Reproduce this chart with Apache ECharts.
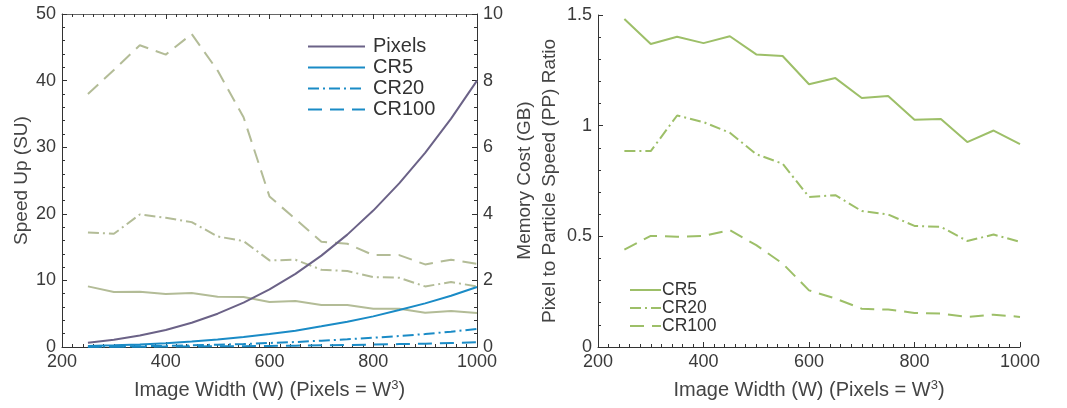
<!DOCTYPE html>
<html>
<head>
<meta charset="utf-8">
<script src="https://cdn.jsdelivr.net/npm/echarts@6/dist/echarts.min.js"></script>
<style>
  html, body { margin: 0; padding: 0; background: #ffffff; }
  #chart { width: 1067px; height: 408px; }
</style>
</head>
<body>
<div id="chart"></div>
<script>
// Image width W (pixels per side)
const widths = [250, 300, 350, 400, 450, 500, 550, 600, 650, 700, 750, 800, 850, 900, 950, 1000];

// Speed up (SU), left axis of the left panel
const suCR5   = [9.1, 8.25, 8.3, 7.95, 8.1, 7.55, 7.5, 6.75, 6.9, 6.3, 6.3, 5.75, 5.75, 5.15, 5.4, 5.1];
const suCR20  = [17.2, 17.0, 19.9, 19.4, 18.75, 16.6, 15.9, 13.0, 13.1, 11.6, 11.4, 10.5, 10.4, 9.1, 9.75, 9.1];
const suCR100 = [38.0, 41.6, 45.3, 43.9, 47.0, 41.5, 34.5, 22.6, 19.2, 15.8, 15.5, 13.8, 13.8, 12.4, 13.1, 12.5];

// Memory cost (GB), right axis of the left panel
const memPixels = [0.125, 0.216, 0.343, 0.512, 0.729, 1.0, 1.331, 1.728, 2.197, 2.744, 3.375, 4.096, 4.913, 5.832, 6.859, 8.0];
const memCR5    = [0.028, 0.049, 0.077, 0.115, 0.164, 0.225, 0.30, 0.39, 0.49, 0.62, 0.76, 0.92, 1.11, 1.31, 1.54, 1.8];
const memCR20   = [0.01, 0.015, 0.023, 0.035, 0.05, 0.07, 0.09, 0.12, 0.15, 0.19, 0.23, 0.28, 0.33, 0.39, 0.46, 0.54];
const memCR100  = [0.005, 0.006, 0.008, 0.012, 0.015, 0.02, 0.025, 0.032, 0.04, 0.05, 0.06, 0.072, 0.087, 0.10, 0.12, 0.14];

// Pixel to particle speed (PP) ratio, right panel
const ppCR5   = [1.482, 1.369, 1.402, 1.373, 1.404, 1.322, 1.315, 1.187, 1.215, 1.125, 1.134, 1.027, 1.030, 0.926, 0.978, 0.917];
const ppCR20  = [0.885, 0.885, 1.046, 1.016, 0.968, 0.871, 0.828, 0.678, 0.686, 0.614, 0.599, 0.547, 0.543, 0.479, 0.508, 0.475];
const ppCR100 = [0.440, 0.502, 0.498, 0.502, 0.528, 0.460, 0.377, 0.256, 0.219, 0.173, 0.169, 0.154, 0.151, 0.136, 0.146, 0.136];

const memNames = ['Pixels', 'CR5', 'CR20', 'CR100'];
const ppNames = ['CR5 ', 'CR20 ', 'CR100 '];
const xTitle = 'Image Width (W) (Pixels = W{sup|3})';

const FONT = '"Liberation Sans", Arial, Helvetica, sans-serif';
const AXIS_COLOR = '#333333';
const LABEL_COLOR = '#3a3a3a';
const C_PIX = '#6b6287';
const C_BLUE = '#1a8bc6';
const C_SAGE = '#b3bc97';
const C_GREEN = '#9dbf68';

const DASH = [14, 8];
const DASHDOT = [11, 4, 2, 4];

const pairs = ys => widths.map((w, i) => [w, ys[i]]);

function xAxisBase(gridIndex, opts) {
  return Object.assign({
    type: 'value', gridIndex, min: 200, max: 1000, interval: 200,
    axisLine: { show: true, onZero: false, lineStyle: { color: AXIS_COLOR, width: 1 } },
    axisTick: { show: true, inside: true, length: 5, lineStyle: { color: AXIS_COLOR } },
    minorTick: { show: true, splitNumber: 10, length: 3, lineStyle: { color: AXIS_COLOR } },
    splitLine: { show: false },
    axisLabel: { color: LABEL_COLOR, fontSize: 18, fontFamily: FONT, margin: 6, formatter: v => String(v) },
    name: xTitle, nameLocation: 'middle', nameGap: 32,
    nameTextStyle: {
      color: '#444444', fontSize: 20, fontFamily: FONT,
      rich: { sup: { fontSize: 13, verticalAlign: 'bottom', padding: [0, 0, 10, 0], color: '#444444', fontFamily: FONT } }
    }
  }, opts || {});
}

function yAxisBase(gridIndex, opts) {
  return Object.assign({
    type: 'value', gridIndex,
    axisLine: { show: true, onZero: false, lineStyle: { color: AXIS_COLOR, width: 1 } },
    axisTick: { show: true, inside: true, length: 5, lineStyle: { color: AXIS_COLOR } },
    minorTick: { show: true, splitNumber: 5, length: 3, lineStyle: { color: AXIS_COLOR } },
    splitLine: { show: false },
    axisLabel: { color: LABEL_COLOR, fontSize: 18, fontFamily: FONT, margin: 6 },
    nameLocation: 'middle',
    nameTextStyle: { color: '#444444', fontSize: 19, fontFamily: FONT }
  }, opts || {});
}

function line(name, xAxisIndex, yAxisIndex, ys, color, type, z) {
  return {
    name, type: 'line', xAxisIndex, yAxisIndex, data: pairs(ys),
    showSymbol: false, symbol: 'circle', symbolSize: 0, smooth: false, silent: true, z: z || 2,
    lineStyle: { color, width: 2, type: type || 'solid' },
    itemStyle: { color }
  };
}

const legendBase = {
  orient: 'vertical', selectedMode: false,
  itemStyle: { opacity: 0 },
  lineStyle: { width: 2 }
};

const chart = echarts.init(document.getElementById('chart'), null, { renderer: 'canvas' });

chart.setOption({
  backgroundColor: '#ffffff',
  animation: false,
  textStyle: { fontFamily: FONT },
  grid: [
    { left: 62, right: 590, top: 14, bottom: 61 },
    { left: 598, right: 47, top: 15, bottom: 61 }
  ],
  xAxis: [
    xAxisBase(0),
    xAxisBase(0, {
      position: 'top', name: '',
      axisLabel: { show: false },
      axisLine: { show: true, onZero: false, lineStyle: { color: '#666666', width: 1 } }
    }),
    xAxisBase(1)
  ],
  yAxis: [
    yAxisBase(0, { min: 0, max: 50, interval: 10, position: 'left', name: 'Speed Up (SU)', nameGap: 31 }),
    yAxisBase(0, { min: 0, max: 10, interval: 2, position: 'right', name: 'Memory Cost (GB)', nameGap: 38 }),
    yAxisBase(1, { min: 0, max: 1.5, interval: 0.5, position: 'left', name: 'Pixel to Particle Speed (PP) Ratio', nameGap: 39 })
  ],
  legend: [
    Object.assign({}, legendBase, {
      data: memNames, left: 302, top: 31,
      itemWidth: 57, itemHeight: 14, itemGap: 0,
      textStyle: { color: '#333333', fontSize: 20, lineHeight: 21, fontFamily: FONT, padding: [0, 0, 0, 3] }
    }),
    Object.assign({}, legendBase, {
      data: ppNames, left: 624, top: 276,
      itemWidth: 31, itemHeight: 12, itemGap: 0,
      textStyle: { color: '#333333', fontSize: 17.5, lineHeight: 17.5, fontFamily: FONT, padding: [0, 0, 0, -4] }
    })
  ],
  series: [
    // speed up lines (left axis)
    line('SU CR5', 0, 0, suCR5, C_SAGE, 'solid', 2),
    line('SU CR20', 0, 0, suCR20, C_SAGE, DASHDOT, 2),
    line('SU CR100', 0, 0, suCR100, C_SAGE, DASH, 2),
    // memory lines (right axis)
    line(memNames[0], 0, 1, memPixels, C_PIX, 'solid', 3),
    line(memNames[1], 0, 1, memCR5, C_BLUE, 'solid', 3),
    line(memNames[2], 0, 1, memCR20, C_BLUE, DASHDOT, 3),
    line(memNames[3], 0, 1, memCR100, C_BLUE, DASH, 3),
    // PP ratio panel
    line(ppNames[0], 2, 2, ppCR5, C_GREEN, 'solid', 2),
    line(ppNames[1], 2, 2, ppCR20, C_GREEN, DASHDOT, 2),
    line(ppNames[2], 2, 2, ppCR100, C_GREEN, DASH, 2)
  ]
});
</script>
</body>
</html>
